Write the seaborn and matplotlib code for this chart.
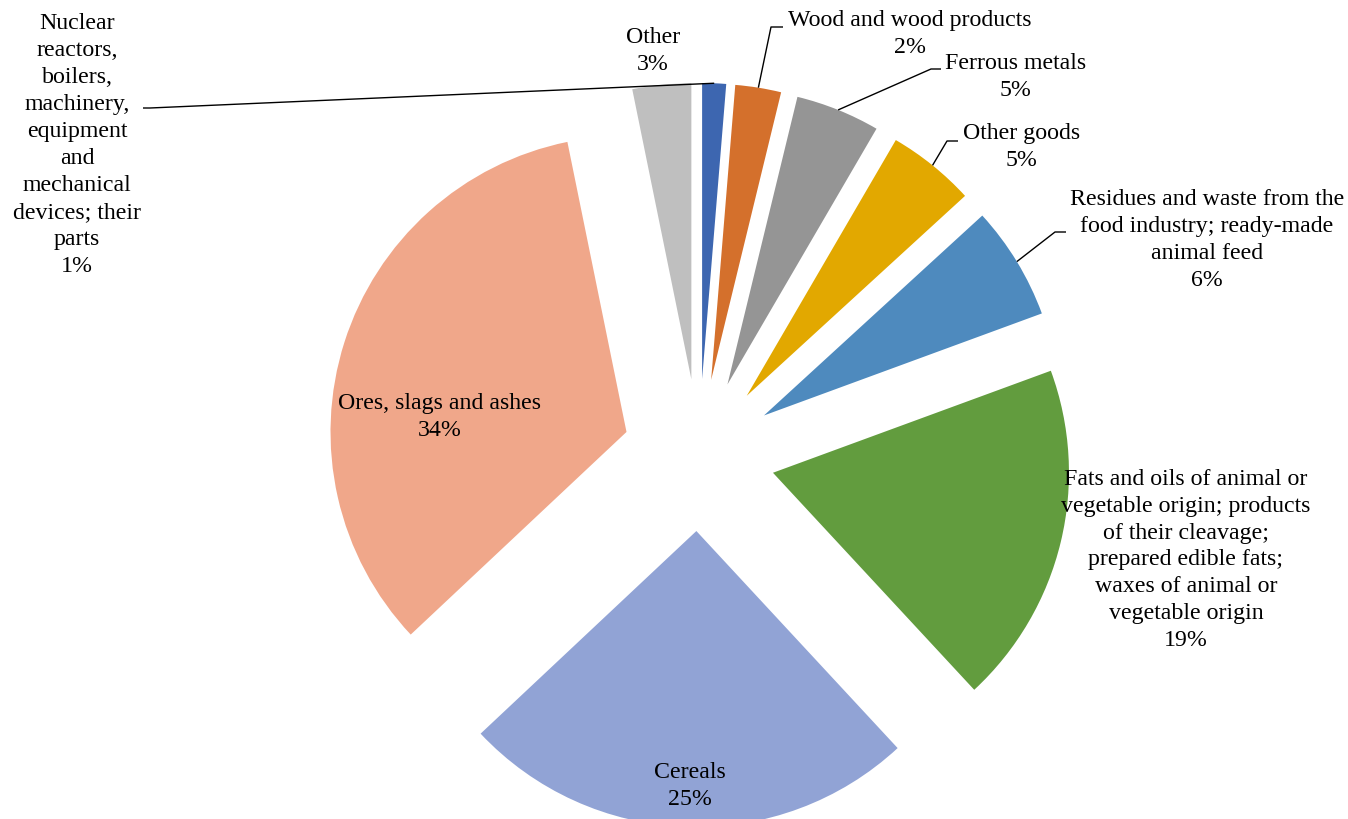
import numpy as np
import matplotlib
matplotlib.use("Agg")
import matplotlib.pyplot as plt
import seaborn as sns

# ---------------- data ----------------
categories = [
    "Nuclear\nreactors,\nboilers,\nmachinery,\nequipment\nand\nmechanical\ndevices; their\nparts",
    "Wood and wood products",
    "Ferrous metals",
    "Other goods",
    "Residues and waste from the\nfood industry; ready-made\nanimal feed",
    "Fats and oils of animal or\nvegetable origin; products\nof their cleavage;\nprepared edible fats;\nwaxes of animal or\nvegetable origin",
    "Cereals",
    "Ores, slags and ashes",
    "Other",
]
shares = [1.3, 2.5, 4.6, 4.8, 6.2, 18.7, 24.9, 33.8, 3.2]
colors = ["#3D66B0", "#D4702C", "#959595", "#E2A800", "#4E8ABE",
          "#629C3E", "#91A3D5", "#F0A78A", "#BFBFBF"]

# ---------------- layout (pixels, origin top-left) ----------------
W, H = 1348, 819
CX, CY, R = 699, 455, 296          # pie centre and radius in px
EXPLODE = 0.257
label_pos = [(77, 145), (910, 34), (1016, 77), (1022, 147), (1207, 240),
             (1186, 560), (690, 786), (440, 417), (653, 51)]
# leader line knee / end points (None = no leader)
leaders = [[(150, 108), (143, 108)],
           [(771, 27), (783, 27)],
           [(931, 69), (941, 69)],
           [(947, 141), (958, 141)],
           [(1055, 232), (1066, 232)],
           None, None, None, None]

sns.set_style("white")
plt.rcParams["font.family"] = ["Liberation Serif", "DejaVu Serif"]

fig = plt.figure(figsize=(W / 100, H / 100), dpi=100)
ax = fig.add_axes([0, 0, 1, 1])


def px(p):
    return ((p[0] - CX) / R, (CY - p[1]) / R)


wedges, _ = ax.pie(shares, colors=colors, startangle=90, counterclock=False,
                   explode=[EXPLODE] * len(shares), radius=1,
                   wedgeprops=dict(linewidth=0))
ax.set_aspect("auto")
ax.set_xlim(-CX / R, (W - CX) / R)
ax.set_ylim(-(H - CY) / R, CY / R)
ax.axis("off")

total = sum(shares)
for i, (w, cat) in enumerate(zip(wedges, categories)):
    pct = int(round(shares[i] / total * 100))
    txt = f"{cat}\n{pct}%"
    x, y = px(label_pos[i])
    ax.text(x, y, txt, ha="center", va="center", multialignment="center",
            fontsize=17.2, color="#000000", linespacing=1.37)
    if leaders[i] is not None:
        mid = np.deg2rad((w.theta1 + w.theta2) / 2)
        rr = 1 + EXPLODE
        start = (rr * np.cos(mid), rr * np.sin(mid))
        pts = [start] + [px(p) for p in leaders[i]]
        ax.plot([p[0] for p in pts], [p[1] for p in pts], color="#000000",
                linewidth=1.0, solid_capstyle="butt")

fig.savefig("out.png", dpi=100)
